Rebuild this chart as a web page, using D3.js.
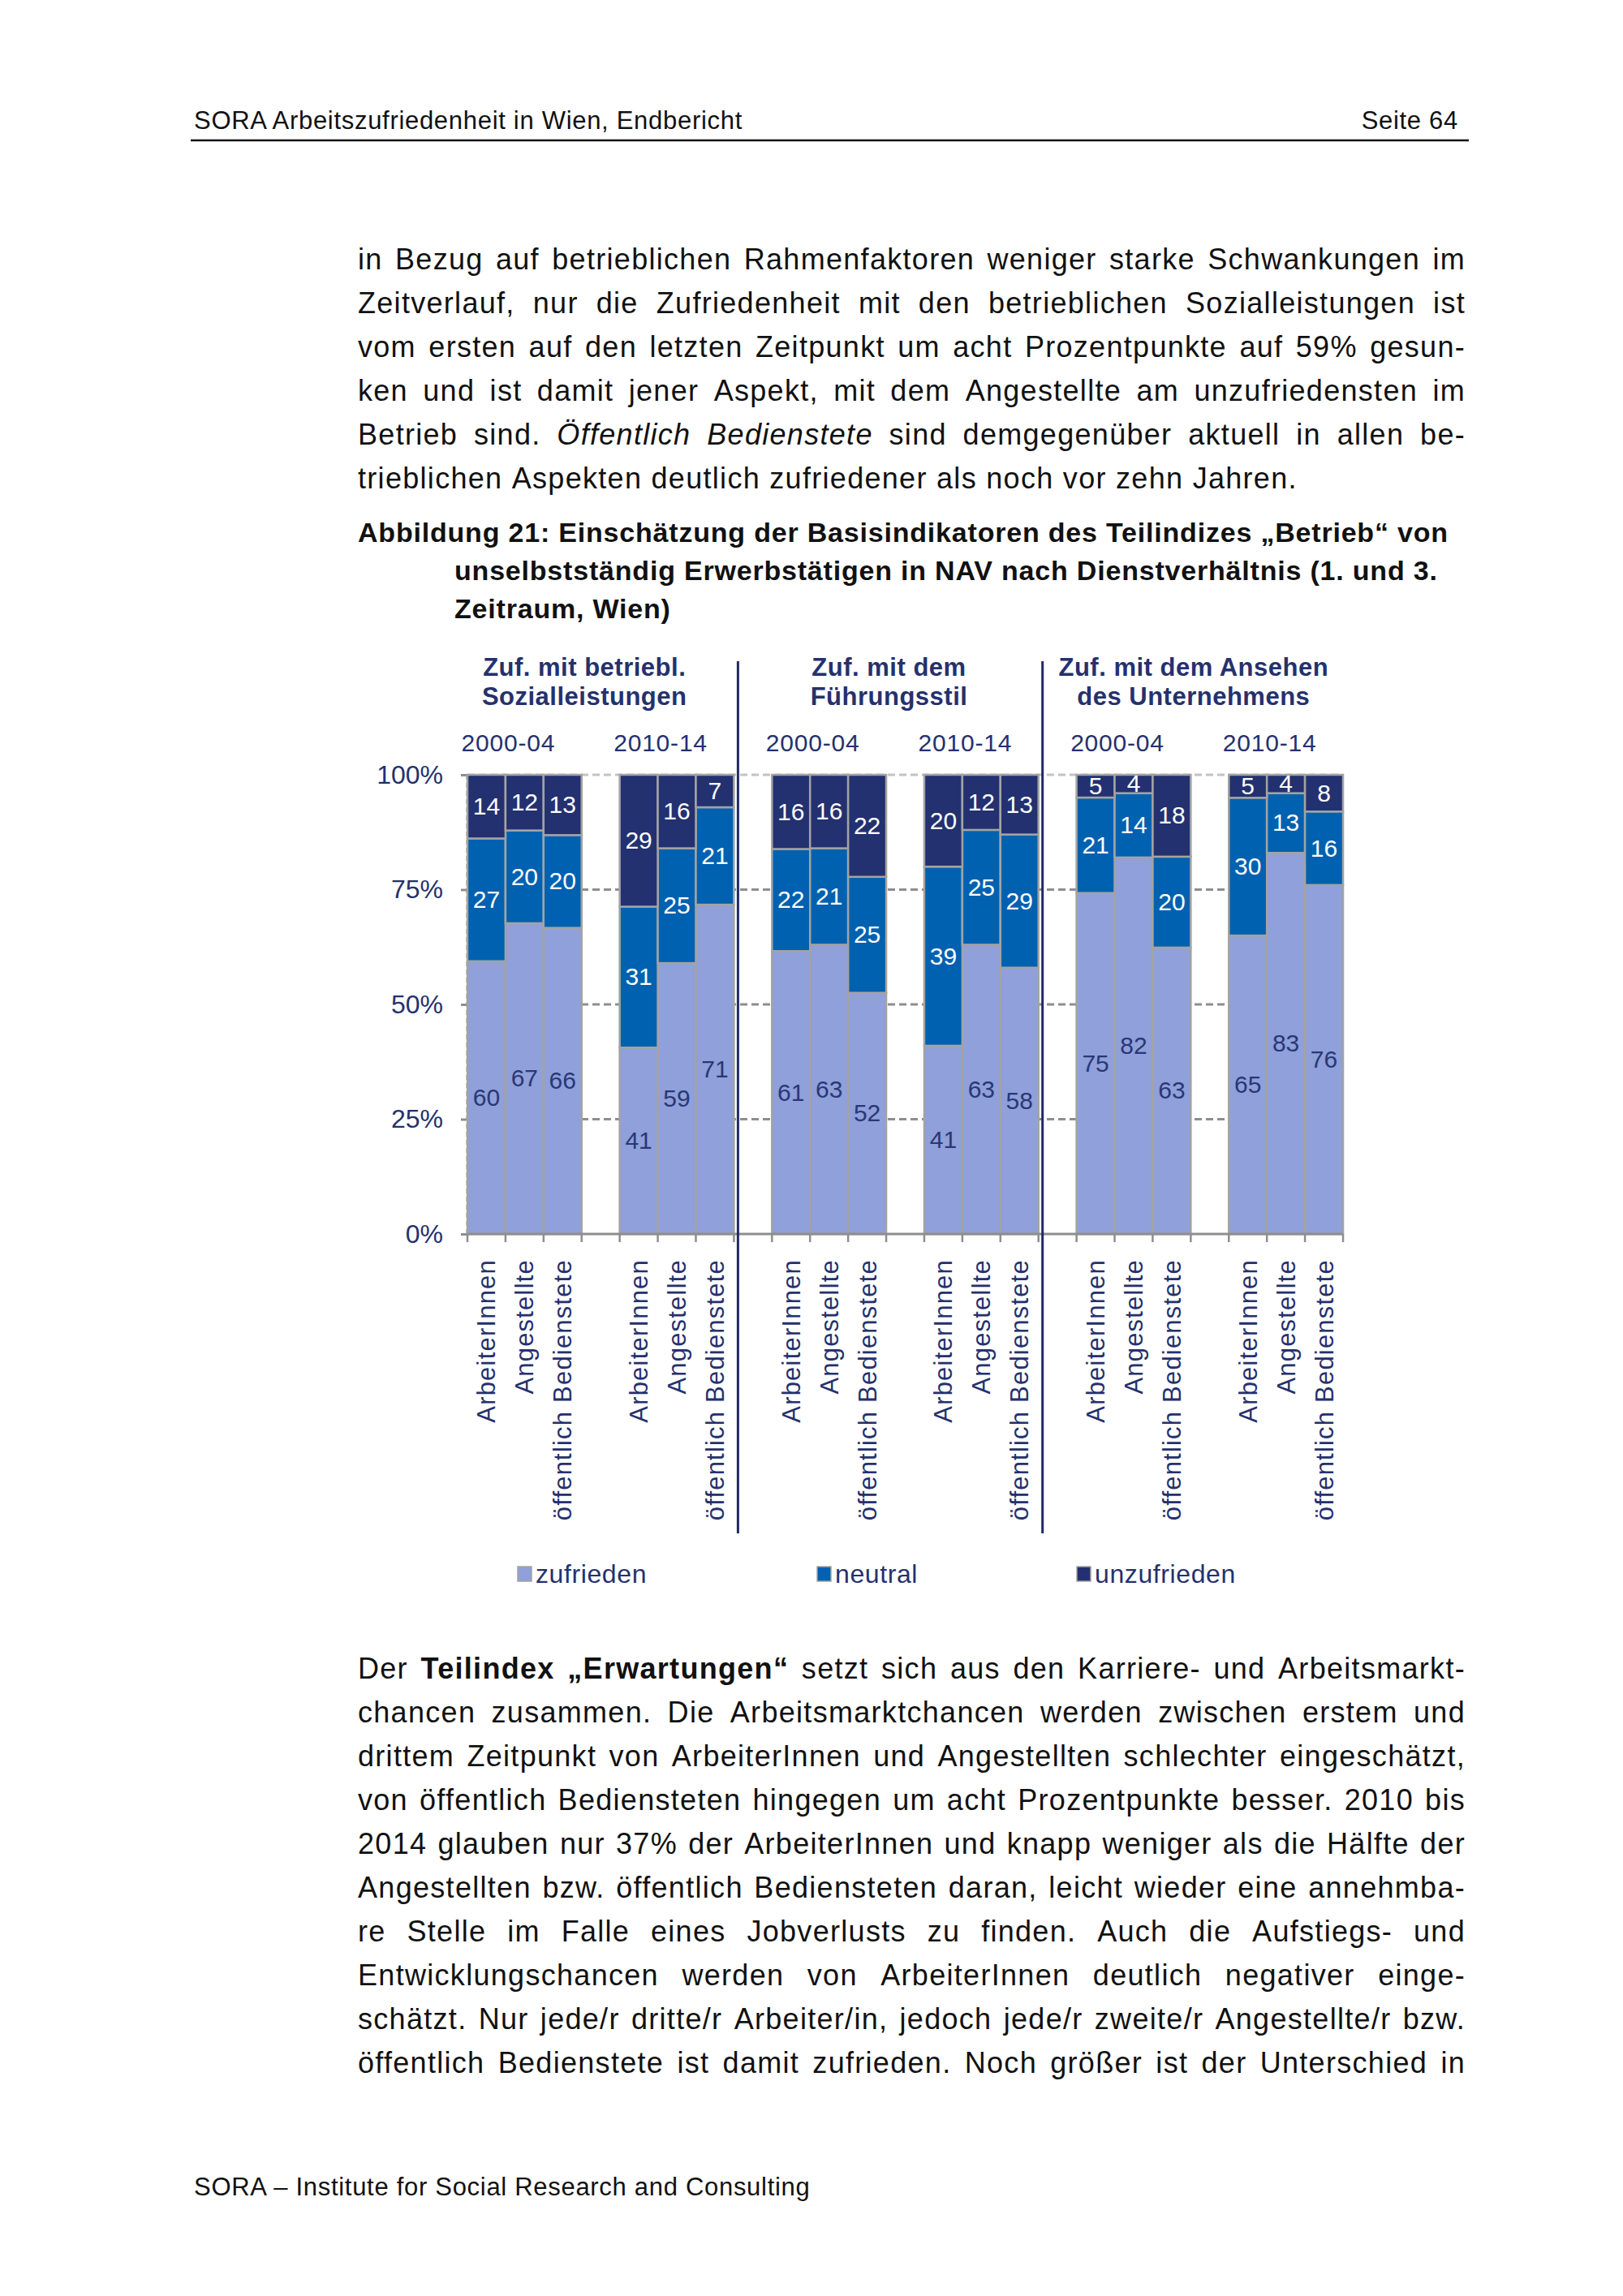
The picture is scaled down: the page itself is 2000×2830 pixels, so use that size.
<!DOCTYPE html>
<html>
<head>
<meta charset="utf-8">
<script src="https://cdn.jsdelivr.net/npm/d3@7"></script>
<style>
  body { margin: 0; background: #fff; }
  text { font-family: "Liberation Sans", Arial, sans-serif; }
</style>
</head>
<body>
<script>
// ---- chart data ----
const groupTitles = [
  ["Zuf. mit betriebl.", "Sozialleistungen"],
  ["Zuf. mit dem", "Führungsstil"],
  ["Zuf. mit dem Ansehen", "des Unternehmens"]
];
const periods = ["2000-04", "2010-14"];
const employeeTypes = ["ArbeiterInnen", "Angestellte", "öffentlich Bedienstete"];
const seriesNames = ["zufrieden", "neutral", "unzufrieden"];
const zufrieden   = [60, 67, 66, 41, 59, 71, 61, 63, 52, 41, 63, 58, 75, 82, 63, 65, 83, 76];
const neutral     = [27, 20, 20, 31, 25, 21, 22, 21, 25, 39, 25, 29, 21, 14, 20, 30, 13, 16];
const unzufrieden = [14, 12, 13, 29, 16, 7, 16, 16, 22, 20, 12, 13, 5, 4, 18, 5, 4, 8];
const yTicks = [0, 0.25, 0.5, 0.75, 1];

// ---- page text ----
const headerLeft = "SORA Arbeitszufriedenheit in Wien, Endbericht";
const headerRight = "Seite 64";
const footerText = "SORA – Institute for Social Research and Consulting";
const para1 = [
  "in Bezug auf betrieblichen Rahmenfaktoren weniger starke Schwankungen im",
  "Zeitverlauf, nur die Zufriedenheit mit den betrieblichen Sozialleistungen ist",
  "vom ersten auf den letzten Zeitpunkt um acht Prozentpunkte auf 59% gesun-",
  "ken und ist damit jener Aspekt, mit dem Angestellte am unzufriedensten im",
  "Betrieb sind. _Öffentlich _Bedienstete sind demgegenüber aktuell in allen be-",
  "trieblichen Aspekten deutlich zufriedener als noch vor zehn Jahren."
];
const captionLines = [
  "Abbildung 21: Einschätzung der Basisindikatoren des Teilindizes „Betrieb“ von",
  "unselbstständig Erwerbstätigen in NAV nach Dienstverhältnis (1. und 3.",
  "Zeitraum, Wien)"
];
const para2 = [
  "Der ^Teilindex ^„Erwartungen“ setzt sich aus den Karriere- und Arbeitsmarkt-",
  "chancen zusammen. Die Arbeitsmarktchancen werden zwischen erstem und",
  "drittem Zeitpunkt von ArbeiterInnen und Angestellten schlechter eingeschätzt,",
  "von öffentlich Bediensteten hingegen um acht Prozentpunkte besser. 2010 bis",
  "2014 glauben nur 37% der ArbeiterInnen und knapp weniger als die Hälfte der",
  "Angestellten bzw. öffentlich Bediensteten daran, leicht wieder eine annehmba-",
  "re Stelle im Falle eines Jobverlusts zu finden. Auch die Aufstiegs- und",
  "Entwicklungschancen werden von ArbeiterInnen deutlich negativer einge-",
  "schätzt. Nur jede/r dritte/r Arbeiter/in, jedoch jede/r zweite/r Angestellte/r bzw.",
  "öffentlich Bedienstete ist damit zufrieden. Noch größer ist der Unterschied in"
];

const colors = { zufrieden: "#8fa0da", neutral: "#0061b0", unzufrieden: "#233170" };
const navy = "#25316d";

const svg = d3.select("body").append("svg")
  .attr("width", 2000)
  .attr("height", 2830);

// justified line of words; "_" prefix = italic, "^" prefix = bold
function textLine(words, x0, x1, y, size, justify, weight, spacing) {
  const t = svg.append("text").attr("y", y).attr("font-size", size).attr("fill", "#111")
    .attr("letter-spacing", spacing);
  const spans = words.split(" ").map(w => {
    const s = t.append("tspan").attr("y", y);
    if (w.startsWith("_")) { s.attr("font-style", "italic"); w = w.slice(1); }
    if (w.startsWith("^")) { s.attr("font-weight", "bold"); w = w.slice(1); }
    if (weight) s.attr("font-weight", weight);
    s.text(w);
    return s;
  });
  const widths = spans.map(s => s.node().getComputedTextLength());
  const total = d3.sum(widths);
  const gap = justify && spans.length > 1 ? (x1 - x0 - total) / (spans.length - 1) : size * 0.278 + spacing;
  let x = x0;
  spans.forEach((s, i) => { s.attr("x", x); x += widths[i] + gap; });
}

// header / footer
svg.append("text").attr("x", 239).attr("y", 159).attr("font-size", 31).attr("letter-spacing", 0.7)
  .attr("fill", "#111").text(headerLeft);
svg.append("text").attr("x", 1797).attr("y", 159).attr("font-size", 31).attr("letter-spacing", 0.7)
  .attr("fill", "#111").attr("text-anchor", "end").text(headerRight);
svg.append("line").attr("x1", 235).attr("x2", 1810).attr("y1", 173).attr("y2", 173)
  .attr("stroke", "#111").attr("stroke-width", 2.5);
svg.append("text").attr("x", 239).attr("y", 2706).attr("font-size", 31).attr("letter-spacing", 0.7)
  .attr("fill", "#111").text(footerText);

para1.forEach((l, i) => textLine(l, 441, 1806, 332 + i * 54, 36, i < para1.length - 1, null, 1.3));
captionLines.forEach((l, i) => textLine(l, i === 0 ? 441 : 560, 1790, 668 + i * 47, 34, false, "bold", 0.8));
para2.forEach((l, i) => textLine(l, 441, 1806, 2069 + i * 54, 36, true, null, 1.3));

// ---- chart ----
const rows = [];
const keys = [];
let n = 0;
groupTitles.forEach((g, gi) => {
  periods.forEach((p, pi) => {
    employeeTypes.forEach((t, ti) => {
      const key = `${gi}-${pi}-${ti}`;
      keys.push(key);
      rows.push({ key, type: t, zufrieden: zufrieden[n], neutral: neutral[n], unzufrieden: unzufrieden[n] });
      n++;
    });
    if (!(gi === groupTitles.length - 1 && pi === periods.length - 1)) keys.push(`gap-${gi}-${pi}`);
  });
});

const x = d3.scaleBand().domain(keys).range([576, 1655]).padding(0);
const y = d3.scaleLinear().domain([0, 1]).range([1521, 955]);

const stacked = d3.stack().keys(seriesNames).offset(d3.stackOffsetExpand)(rows);

// gridlines
svg.append("g").selectAll("line")
  .data(yTicks.filter(d => d > 0))
  .join("line")
  .attr("x1", x.range()[0]).attr("x2", x.range()[1])
  .attr("y1", d => y(d)).attr("y2", d => y(d))
  .attr("stroke", d => d === 1 ? "#c3c3c3" : "#8e8e8e")
  .attr("stroke-width", 3)
  .attr("stroke-dasharray", "9,5");

// y axis
const yAxis = svg.append("g")
  .attr("transform", `translate(${x.range()[0]},0)`)
  .call(d3.axisLeft(y).tickValues(yTicks).tickFormat(d3.format(".0%")).tickSize(8).tickPadding(22));
yAxis.select(".domain").remove();
yAxis.selectAll(".tick line").attr("stroke", "#8e8e8e").attr("stroke-width", 3);
yAxis.selectAll(".tick text").attr("font-size", 32).attr("fill", navy)
  .attr("font-family", "Liberation Sans, Arial, sans-serif");
svg.append("line")
  .attr("x1", x.range()[0]).attr("x2", x.range()[0])
  .attr("y1", y(1)).attr("y2", y(0))
  .attr("stroke", "#8e8e8e").attr("stroke-width", 3).attr("stroke-dasharray", "6,4");

// bars
const layer = svg.append("g").selectAll("g")
  .data(stacked)
  .join("g")
  .attr("fill", d => colors[d.key]);

layer.selectAll("rect")
  .data(d => d)
  .join("rect")
  .attr("x", d => x(d.data.key))
  .attr("width", x.bandwidth())
  .attr("y", d => y(d[1]))
  .attr("height", d => y(d[0]) - y(d[1]))
  .attr("stroke", "#a3a3a3")
  .attr("stroke-width", 2.5);

// value labels
stacked.forEach(s => {
  svg.append("g").selectAll("text")
    .data(s)
    .join("text")
    .attr("x", d => x(d.data.key) + x.bandwidth() / 2)
    .attr("y", d => y((d[0] + d[1]) / 2) + 10)
    .attr("text-anchor", "middle")
    .attr("font-size", 30)
    .attr("fill", s.key === "zufrieden" ? "#2a3776" : "#fff")
    .text(d => d.data[s.key]);
});

// x axis line and ticks at band edges
svg.append("line")
  .attr("x1", x.range()[0]).attr("x2", x.range()[1])
  .attr("y1", y(0)).attr("y2", y(0))
  .attr("stroke", "#8e8e8e").attr("stroke-width", 3);
svg.append("g").selectAll("line")
  .data(keys.map(k => x(k)).concat([x.range()[1]]))
  .join("line")
  .attr("x1", d => d).attr("x2", d => d)
  .attr("y1", y(0)).attr("y2", y(0) + 10)
  .attr("stroke", "#8e8e8e").attr("stroke-width", 2.5);

// category labels
svg.append("g").selectAll("text")
  .data(rows)
  .join("text")
  .attr("transform", d => `translate(${x(d.key) + x.bandwidth() / 2 + 11},1552) rotate(-90)`)
  .attr("text-anchor", "end")
  .attr("font-size", 31)
  .attr("letter-spacing", 1.2)
  .attr("fill", navy)
  .text(d => d.type);

// group separators (just right of the last bar of each indicator)
[`gap-0-1`, `gap-1-1`].forEach(k => {
  const sx = x(k) + 5;
  svg.append("line")
    .attr("x1", sx).attr("x2", sx)
    .attr("y1", 815).attr("y2", 1890)
    .attr("stroke", "#1f2a68").attr("stroke-width", 3);
});

// group titles and period labels
groupTitles.forEach((g, gi) => {
  const first = x(`${gi}-0-0`);
  const last = x(`${gi}-1-2`) + x.bandwidth();
  const cx = (first + last) / 2 - 20;
  g.forEach((line, li) => {
    svg.append("text")
      .attr("x", cx).attr("y", 833 + li * 36)
      .attr("text-anchor", "middle")
      .attr("font-size", 31).attr("font-weight", "bold")
      .attr("letter-spacing", 0.5)
      .attr("fill", navy)
      .text(line);
  });
  periods.forEach((p, pi) => {
    const a = x(`${gi}-${pi}-0`);
    const b = x(`${gi}-${pi}-2`) + x.bandwidth();
    svg.append("text")
      .attr("x", (a + b) / 2 - 20).attr("y", 926)
      .attr("text-anchor", "middle")
      .attr("font-size", 30)
      .attr("letter-spacing", 0.8)
      .attr("fill", navy)
      .text(p);
  });
});

// legend
const legendX = [660, 1029, 1349];
const legend = svg.append("g").selectAll("g")
  .data(seriesNames)
  .join("g")
  .attr("transform", (d, i) => `translate(${legendX[i]},1940)`);
legend.append("rect")
  .attr("x", -22).attr("y", -9).attr("width", 17).attr("height", 18)
  .attr("fill", d => colors[d]).attr("stroke", "#a3a3a3").attr("stroke-width", 1.5);
legend.append("text")
  .attr("y", 11)
  .attr("font-size", 32)
  .attr("letter-spacing", 0.6)
  .attr("fill", navy)
  .text(d => d);
</script>
</body>
</html>
